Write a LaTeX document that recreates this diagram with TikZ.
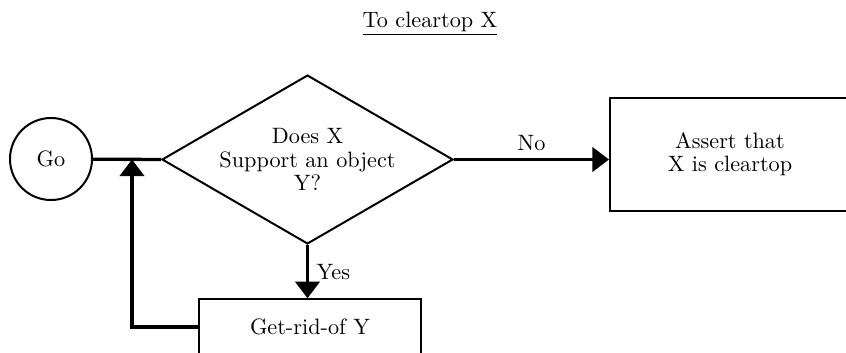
\documentclass[tikz,border=0pt]{standalone}
\usepackage{amsmath}
\usetikzlibrary{shapes.geometric,arrows.meta}

\begin{document}
\begin{tikzpicture}[x=0.45pt,y=-0.45pt,font=\fontsize{10}{10.5}\selectfont,
        box/.style={draw,line width=0.9pt,rectangle,align=center,inner sep=0pt},
        flow/.style={line width=1.5pt},
        head/.style={-{Triangle[length=7.5pt,width=11pt]}}]

    \useasboundingbox (0,0) rectangle (846,352);

    \node[anchor=base] (title) at (430,27) {\underline{To cleartop X}};

    \node[draw,circle,line width=0.9pt,minimum size=36.9pt] (go) at (51,159) {Go};
    \node[draw,diamond,aspect=1.72,line width=0.9pt,minimum width=131pt,minimum height=76pt,inner sep=0pt,align=center] (test) at (307.5,159.5) {Does X\\Support an object\\Y?};
    \node[box,minimum width=108pt,minimum height=51pt] (assert) at (730,154.5) {Assert that\\X is cleartop};
    \node[box,minimum width=99.5pt,minimum height=25pt] (getrid) at (310,327) {Get-rid-of Y};
    \coordinate (merge) at (132,159.5);

    \draw[flow] (go) -- (test.west);
    \draw[flow,head] (test.east) -- node[above] {No} (test.east -| assert.west);
    \draw[flow,head] (test.south) -- node[right] {Yes} (test.south |- getrid.north);
    \draw[flow,head] (getrid.west) -- (merge |- getrid.west) -- (merge);

\end{tikzpicture}
\end{document}
